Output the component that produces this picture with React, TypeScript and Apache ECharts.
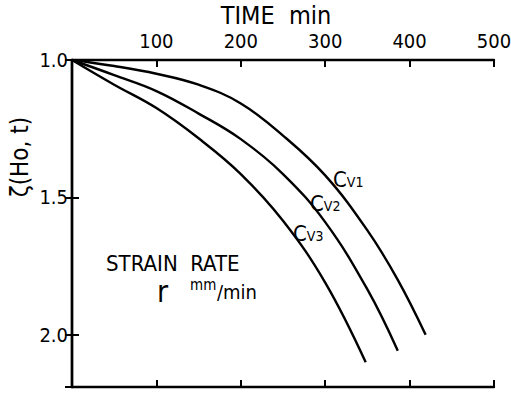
import React, { useEffect, useRef } from "react";
import * as echarts from "echarts";

const xTicks = [100, 200, 300, 400, 500];
const yTicks = [1.0, 1.5, 2.0];

const cv1: [number, number][] = [
  [0, 1.0], [50, 1.022], [100, 1.05], [150, 1.09], [200, 1.158], [250, 1.275],
  [300, 1.42], [350, 1.62], [386, 1.8], [419, 2.0],
];
const cv2: [number, number][] = [
  [0, 1.0], [50, 1.055], [100, 1.113], [150, 1.195], [200, 1.288], [250, 1.415],
  [300, 1.59], [350, 1.835], [386, 2.058],
];
const cv3: [number, number][] = [
  [0, 1.0], [50, 1.09], [100, 1.175], [150, 1.285], [200, 1.415], [250, 1.585],
  [300, 1.81], [348, 2.1],
];

const FONT = "'DejaVu Sans Condensed', 'DejaVu Sans', sans-serif";

export default function App() {
  const ref = useRef<HTMLDivElement>(null);
  useEffect(() => {
    if (!ref.current) return;
    document.body.style.margin = "0";
    const chart = echarts.init(ref.current, undefined, { renderer: "svg" });
    const lineStyle = { color: "#000", width: 2.4 };
    const mkSeries = (name: string, data: [number, number][]) => ({
      name,
      type: "line",
      data,
      smooth: 0.4,
      showSymbol: false,
      lineStyle,
      xAxisIndex: 0,
      yAxisIndex: 0,
    });
    const sub = { fontSize: 14, fontFamily: FONT, fill: "#000", padding: [6, 0, 0, 0] };
    chart.setOption({
      animation: false,
      backgroundColor: "#fff",
      grid: { left: 72, right: 17, top: 60, bottom: 6, outerBoundsMode: "none", containLabel: false },
      xAxis: [
        {
          type: "value",
          position: "top",
          min: 0,
          max: 500,
          interval: 100,
          axisLine: { show: true, lineStyle: { color: "#000", width: 2.4 } },
          axisTick: { show: true, inside: true, length: 7, lineStyle: { color: "#000", width: 2 } },
          splitLine: { show: false },
          axisLabel: {
            show: true,
            margin: 9,
            color: "#000",
            fontSize: 20,
            fontFamily: FONT,
            hideOverlap: false,
            formatter: (v: number) => (xTicks.includes(v) ? String(v) : ""),
          },
        },
        {
          type: "value",
          position: "bottom",
          min: 0,
          max: 500,
          interval: 100,
          axisLine: { show: true, lineStyle: { color: "#000", width: 2.4 } },
          axisTick: { show: true, inside: true, length: 7, lineStyle: { color: "#000", width: 2 } },
          splitLine: { show: false },
          axisLabel: { show: false },
        },
      ],
      yAxis: [
        {
          type: "value",
          position: "left",
          inverse: true,
          min: 1.0,
          max: 2.19,
          interval: 0.5,
          axisLine: { show: true, lineStyle: { color: "#000", width: 2.4 } },
          axisTick: { show: true, inside: true, length: 7, lineStyle: { color: "#000", width: 2 } },
          splitLine: { show: false },
          axisLabel: {
            show: true,
            margin: 4,
            color: "#000",
            fontSize: 20,
            fontFamily: FONT,
            showMaxLabel: false,
            formatter: (v: number) => (yTicks.some((t) => Math.abs(t - v) < 1e-6) ? v.toFixed(1) : ""),
          },
        },
        {
          type: "value",
          position: "right",
          inverse: true,
          min: 1.0,
          max: 2.19,
          interval: 0.5,
          axisLine: { show: true, lineStyle: { color: "#000", width: 2.4 } },
          axisTick: { show: true, inside: true, length: 7, lineStyle: { color: "#000", width: 2 } },
          splitLine: { show: false },
          axisLabel: { show: false },
        },
      ],
      series: [mkSeries("Cv1", cv1), mkSeries("Cv2", cv2), mkSeries("Cv3", cv3)],
      graphic: [
        {
          type: "text",
          x: 276,
          y: 15,
          style: {
            text: "TIME  min",
            fill: "#000",
            font: `25px ${FONT}`,
            lineHeight: 22,
            textAlign: "center",
            textVerticalAlign: "middle",
          },
        },
        {
          type: "text",
          x: 20,
          y: 157,
          rotation: Math.PI / 2,
          style: {
            text: "ζ(Ho, t)",
            fill: "#000",
            font: `24px ${FONT}`,
            textAlign: "center",
            textVerticalAlign: "middle",
          },
        },
        {
          type: "text",
          left: 333,
          top: 168,
          style: { text: "C{s|V1}", fill: "#000", font: `22px ${FONT}`, rich: { s: sub } },
        },
        {
          type: "text",
          left: 310,
          top: 192,
          style: { text: "C{s|V2}", fill: "#000", font: `22px ${FONT}`, rich: { s: sub } },
        },
        {
          type: "text",
          left: 293,
          top: 222,
          style: { text: "C{s|V3}", fill: "#000", font: `22px ${FONT}`, rich: { s: sub } },
        },
        {
          type: "text",
          left: 106,
          top: 252,
          style: { text: "STRAIN  RATE", fill: "#000", font: `22px ${FONT}`, lineHeight: 20 },
        },
        {
          type: "text",
          left: 157,
          top: 276,
          style: { text: "r", fill: "#000", font: `30px ${FONT}`, lineHeight: 24 },
        },
        {
          type: "text",
          left: 190,
          top: 277,
          style: { text: "mm", fill: "#000", font: `15px ${FONT}`, lineHeight: 13 },
        },
        {
          type: "text",
          left: 217,
          top: 282,
          style: { text: "/min", fill: "#000", font: `20px ${FONT}` },
        },
      ],
    });
    return () => chart.dispose();
  }, []);
  return <div ref={ref} style={{ width: 511, height: 393 }} />;
}
